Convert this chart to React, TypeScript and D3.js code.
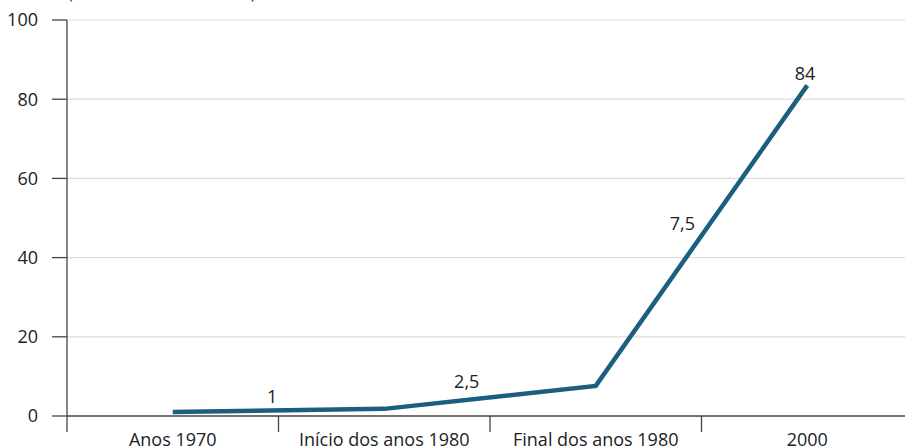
import React, { useEffect, useRef } from "react";
import * as d3 from "d3";

// categories and values
const categories = ["Anos 1970", "Início dos anos 1980", "Final dos anos 1980", "2000"];
const values = [1, 1.8, 7.6, 83.5];
const valueLabels = ["1", "2,5", "7,5", "84"];
// where each value label sits, in category-index / value units
const labelIndex = [0.47, 1.39, 2.41, 2.99];
const labelValue = [3.3, 7.1, 47, 84.8];
const yTicks = [0, 20, 40, 60, 80, 100];
const unitText = "(em milhões de usuários)";

const App = () => {
  const svgRef = useRef<SVGSVGElement | null>(null);

  useEffect(() => {
    const width = 905;
    const height = 448;
    const left = 67;
    const top = 20;
    const bottom = 416;
    const font = "'Open Sans', 'Noto Sans', sans-serif";
    const fs = 18;

    const svg = d3.select(svgRef.current);
    svg.selectAll("*").remove();
    svg.attr("width", width).attr("height", height);

    const x = d3.scaleBand().domain(categories).range([left, left + 4 * 211.5]).padding(0);
    const y = d3.scaleLinear().domain([0, 100]).range([bottom, top]);
    const xi = d3.scaleLinear().domain([0, 3]).range([x(categories[0])! + x.bandwidth() / 2, x(categories[3])! + x.bandwidth() / 2]);

    // cut-off unit text at the very top
    svg.append("text")
      .attr("x", 68)
      .attr("y", -1)
      .attr("font-family", font)
      .attr("font-size", 16)
      .attr("fill", "#222")
      .text(unitText);

    // gridlines
    svg.selectAll(".grid")
      .data(yTicks.filter((d) => d > 0))
      .join("line")
      .attr("x1", left)
      .attr("x2", width)
      .attr("y1", (d) => y(d))
      .attr("y2", (d) => y(d))
      .attr("stroke", "#dcdcdc")
      .attr("stroke-width", 1.2);

    // y axis
    const yAxis = svg.append("g");
    yAxis.append("line")
      .attr("x1", left).attr("x2", left)
      .attr("y1", top).attr("y2", bottom + 16)
      .attr("stroke", "#444").attr("stroke-width", 1.3);
    yAxis.selectAll(".tick")
      .data(yTicks)
      .join("line")
      .attr("x1", left - 15).attr("x2", left)
      .attr("y1", (d) => y(d)).attr("y2", (d) => y(d))
      .attr("stroke", "#444").attr("stroke-width", 1.3);
    yAxis.selectAll("text")
      .data(yTicks)
      .join("text")
      .attr("x", 38)
      .attr("y", (d) => y(d))
      .attr("dy", "0.36em")
      .attr("text-anchor", "end")
      .attr("font-family", font)
      .attr("font-size", fs)
      .attr("fill", "#222")
      .text((d) => d);

    // x axis
    const xAxis = svg.append("g");
    xAxis.append("line")
      .attr("x1", left).attr("x2", width)
      .attr("y1", bottom).attr("y2", bottom)
      .attr("stroke", "#444").attr("stroke-width", 1.3);
    xAxis.selectAll(".tick")
      .data(categories.slice(1))
      .join("line")
      .attr("x1", (d) => x(d)!).attr("x2", (d) => x(d)!)
      .attr("y1", bottom).attr("y2", bottom + 16)
      .attr("stroke", "#444").attr("stroke-width", 1.3);
    xAxis.selectAll("text")
      .data(categories)
      .join("text")
      .attr("x", (d) => x(d)! + x.bandwidth() / 2)
      .attr("y", 446)
      .attr("text-anchor", "middle")
      .attr("font-family", font)
      .attr("font-size", fs)
      .attr("fill", "#222")
      .text((d) => d);

    // the line
    const line = d3.line<number>()
      .x((d, i) => x(categories[i])! + x.bandwidth() / 2)
      .y((d) => y(d));
    svg.append("path")
      .datum(values)
      .attr("d", line)
      .attr("fill", "none")
      .attr("stroke", "#1a5e80")
      .attr("stroke-width", 4.5)
      .attr("stroke-linejoin", "miter");

    // value labels
    svg.selectAll(".val")
      .data(valueLabels)
      .join("text")
      .attr("x", (d, i) => xi(labelIndex[i]))
      .attr("y", (d, i) => y(labelValue[i]))
      .attr("text-anchor", "middle")
      .attr("font-family", font)
      .attr("font-size", fs)
      .attr("fill", "#222")
      .text((d) => d);
  }, []);

  return <svg ref={svgRef} style={{ position: "absolute", left: 0, top: 0 }} />;
};

export default App;
